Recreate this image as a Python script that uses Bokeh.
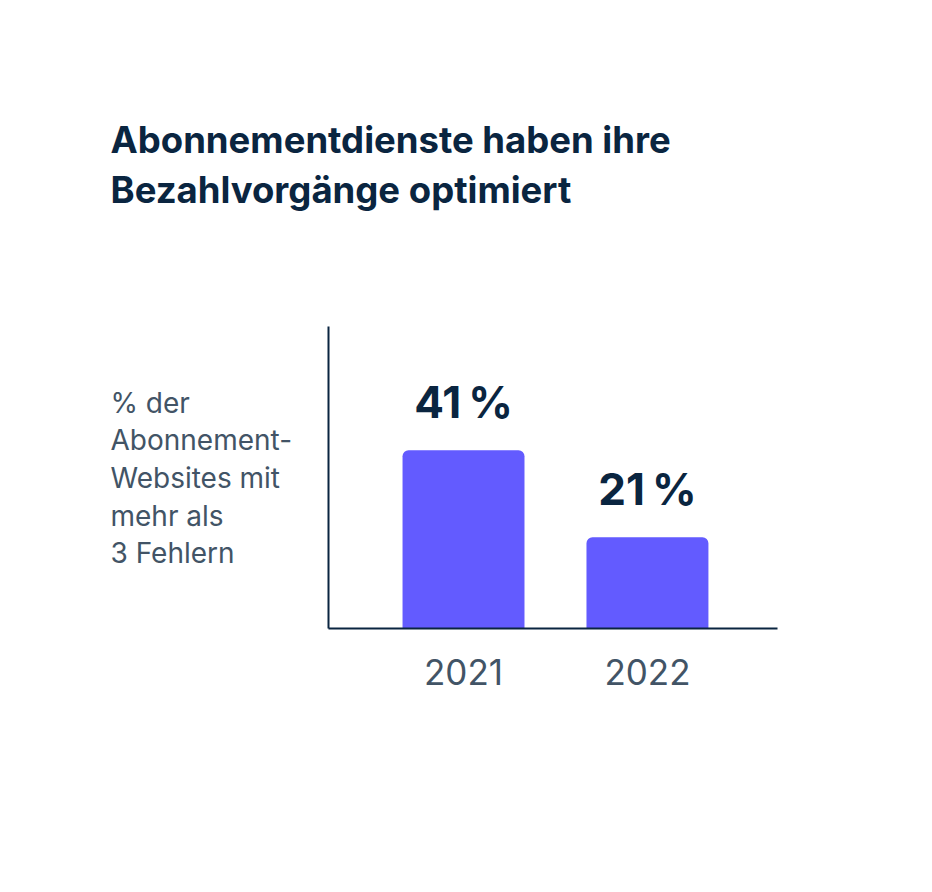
from bokeh.plotting import figure
from bokeh.models import Range1d, FixedTicker, ColumnDataSource
from bokeh.layouts import column, row
from bokeh.core.properties import value
from bokeh.embed import file_html
from bokeh.resources import INLINE

# ---- data ----
years = ["2021", "2022"]
shares = [41, 21]
bar_labels = [f"{v}\u202f%" for v in shares]
title_lines = ["Abonnementdienste haben ihre", "Bezahlvorgänge optimiert"]
ylabel_lines = ["% der", "Abonnement-", "Websites mit", "mehr als", "3 Fehlern"]

NAVY = "#0A2540"
GRAY = "#425466"
PURPLE = "#635BFF"
FONT = "Inter"

W, H = 916, 876
TOP_H = 300          # height of the title strip
LEFT_W = 300         # width of the description strip
MAIN_H = H - TOP_H
MAIN_W = W - LEFT_W


def text_panel(width, height):
    f = figure(frame_width=width, frame_height=height, output_backend="svg",
               toolbar_location=None,
               x_range=Range1d(0, width), y_range=Range1d(height, 0),
               x_axis_location=None, y_axis_location=None,
               min_border=0, min_border_left=0, min_border_right=0,
               min_border_top=0, min_border_bottom=0)
    f.outline_line_color = None
    f.grid.grid_line_color = None
    f.border_fill_color = "white"
    f.background_fill_color = "white"
    return f


# ---- title strip ----
pt = text_panel(W, TOP_H)
pt.text(x=[110] * len(title_lines), y=[139.5 + 50 * i for i in range(len(title_lines))],
        text=title_lines, text_font=value(FONT), text_font_style="bold",
        text_font_size="36.5px", text_color=NAVY,
        text_align="left", text_baseline="alphabetic")

# ---- description strip ----
pl = text_panel(LEFT_W, MAIN_H)
pl.text(x=[110] * len(ylabel_lines),
        y=[76 + 37.7 * i for i in range(len(ylabel_lines))],
        text=ylabel_lines, text_font=value(FONT), text_font_size="28px",
        text_color=GRAY, text_align="left", text_baseline="alphabetic")

# ---- main chart ----
xs = list(range(1, len(years) + 1))
src = ColumnDataSource(dict(x=xs, top=shares, label=bar_labels))

p = figure(width=MAIN_W, height=MAIN_H, output_backend="svg", toolbar_location=None,
           x_range=Range1d(0.266, 2.707), y_range=Range1d(0, 69.5),
           min_border_left=328 - LEFT_W, min_border_right=W - 777,
           min_border_top=326 - TOP_H, min_border_bottom=H - 628)
p.outline_line_color = None
p.grid.grid_line_color = None
p.background_fill_color = "white"
p.border_fill_color = "white"

p.vbar(x="x", top="top", bottom=0, width=0.663, source=src,
       fill_color=PURPLE, line_color=None, border_radius=(6, 6, 0, 0))
p.text(x="x", y="top", text="label", source=src, y_offset=-48,
       text_align="center", text_baseline="alphabetic",
       text_font=value(FONT), text_font_style="bold",
       text_font_size="44px", text_color=NAVY)

p.xaxis.ticker = FixedTicker(ticks=xs)
p.xaxis.major_label_overrides = {x: y for x, y in zip(xs, years)}
p.xaxis.major_tick_line_color = None
p.xaxis.minor_tick_line_color = None
p.xaxis.major_label_standoff = 24
p.xaxis.major_label_text_font = FONT
p.xaxis.major_label_text_font_size = "35px"
p.xaxis.major_label_text_color = GRAY
p.xaxis.axis_line_color = NAVY
p.xaxis.axis_line_width = 2

p.yaxis.ticker = FixedTicker(ticks=[])
p.yaxis.major_tick_line_color = None
p.yaxis.minor_tick_line_color = None
p.yaxis.major_label_text_font_size = "0px"
p.yaxis.axis_line_color = NAVY
p.yaxis.axis_line_width = 2

layout = column(pt, row(pl, p, spacing=0), spacing=0)
open("out.html", "w").write(file_html(layout, INLINE))
